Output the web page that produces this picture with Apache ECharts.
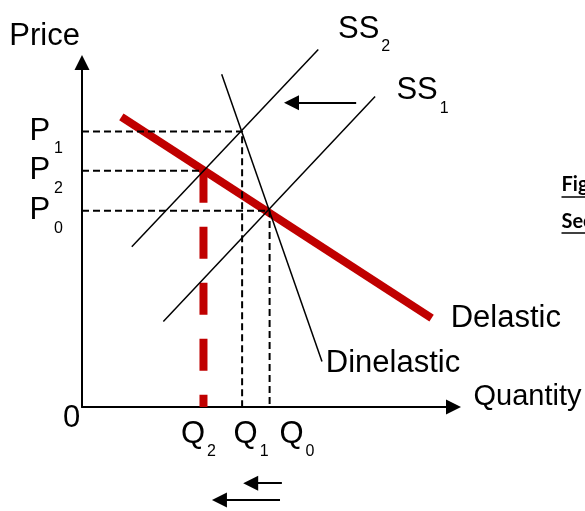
<!DOCTYPE html>
<html>
<head>
<meta charset="utf-8">
<script src="https://cdn.jsdelivr.net/npm/echarts@6.0.0/dist/echarts.min.js"></script>
<style>
html,body{margin:0;padding:0;background:#fff;}
#chart{width:585px;height:511px;}
</style>
</head>
<body>
<div id="chart"></div>
<script>
// ---- data (abstract units: quantity 0..100, price 0..100) ----
// price levels P0, P2, P1
const priceLevels = [57.0, 68.6, 80.0];
const priceSubs = ['0', '2', '1'];
// quantity levels Q2, Q1, Q0
const quantityLevels = [32.7, 43.1, 50.5];
const quantitySubs = ['2', '1', '0'];
// curves: [start point, end point]
const supply1 = [[21.9, 24.8], [78.9, 90.1]];
const supply2 = [[13.4, 46.5], [63.6, 103.8]];
const demandElastic = [[10.6, 84.2], [94.1, 25.8]];
const demandInelastic = [[37.6, 96.6], [64.6, 13.2]];
// curve label texts: [main, subscript]
const supply2Label = ['SS', '2'];
const supply1Label = ['SS', '1'];
const elasticLabel = ['Delastic', ''];
const inelasticLabel = ['Dinelastic', ''];
// annotation arrows: [tail, head]
const arrowSupplyShift = [[73.8, 88.3], [56.4, 88.3]];
const arrowQShiftA = [[53.8, -22.1], [45.4, -22.1]];
const arrowQShiftB = [[53.3, -27.0], [37.0, -27.0]];
// axis names and side texts
const xName = 'Quantity';
const yName = 'Price';
const originLabel = '0';
const sideTexts = ['Figure', 'Section'];

// ---- derived guide lines ----
const P0 = priceLevels[0], P2 = priceLevels[1], P1 = priceLevels[2];
const Q2 = quantityLevels[0], Q1 = quantityLevels[1], Q0 = quantityLevels[2];
const guideP1Q1 = [[0, P1], [Q1, P1], [Q1, 0]];
const guideP0Q0 = [[0, P0], [Q0, P0], [Q0, 0]];
const guideP2 = [[0, P2], [Q2, P2]];
const redDropQ2 = [[Q2, P2], [Q2, 0]];

// ---- styling ----
const FONT = '"Liberation Sans", Arial, sans-serif';
const RED = '#c00000';
const main = {fontSize: 31, lineHeight: 31, fontFamily: FONT, color: '#000', verticalAlign: 'top'};
const sub = {fontSize: 16, lineHeight: 16, fontFamily: FONT, color: '#000', verticalAlign: 'top'};
function st(base, extra) { return Object.assign({}, base, extra); }
const labelRich = {m: st(main, {padding: [0, 0, 0, 0]}), s: st(sub, {padding: [25, 0, 0, 2]}),
  sp: st(sub, {padding: [25, 0, 0, 4]})};
// horizontal nudges of the quantity labels (layout only)
const qLabelNudge = [-5, 9, 27.3];

function lineSeries(data, color, width, dash, z) {
  return {
    type: 'line', data: data, showSymbol: false, symbol: 'none', clip: false, silent: true, z: z,
    lineStyle: {color: color, width: width, type: dash || 'solid', cap: 'butt'}
  };
}
function labelSeries(items, base) {
  return {
    type: 'scatter', clip: false, silent: true, z: 6, symbolSize: 1,
    itemStyle: {color: 'rgba(0,0,0,0)', opacity: 1},
    label: Object.assign({show: true, color: '#000', opacity: 1, fontFamily: FONT, fontSize: 31, rich: labelRich}, base),
    data: items
  };
}

const chart = echarts.init(document.getElementById('chart'), null, {renderer: 'canvas'});
chart.setOption({
  animation: false,
  backgroundColor: '#fff',
  grid: {left: 82, top: 62.5, right: 131.5, bottom: 104, containLabel: false, outerBoundsMode: 'none'},
  xAxis: {
    type: 'value', min: 0, max: 100,
    axisLine: {show: true, onZero: false, symbol: ['none', 'triangle'], symbolSize: [15, 15],
      lineStyle: {color: '#000', width: 2}},
    axisTick: {show: false}, splitLine: {show: false}, axisLabel: {show: false},
    name: '{q|' + xName + '}', nameLocation: 'end', nameGap: 20, nameMoveOverlap: false,
    nameTextStyle: {fontSize: 29, fontFamily: FONT, color: '#000', align: 'left', verticalAlign: 'middle',
      rich: {q: {fontSize: 29, lineHeight: 29, fontFamily: FONT, color: '#000', padding: [0, 0, 20, 0]}}}
  },
  yAxis: {
    type: 'value', min: 0, max: 100,
    axisLine: {show: true, onZero: false, symbol: ['none', 'triangle'], symbolSize: [15, 15],
      lineStyle: {color: '#000', width: 2}},
    axisTick: {show: false}, splitLine: {show: false}, axisLabel: {show: false},
    name: yName, nameLocation: 'end', nameGap: 26, nameMoveOverlap: false,
    nameTextStyle: {fontSize: 31, fontFamily: FONT, color: '#000', align: 'right', verticalAlign: 'middle',
      padding: [0, 2, 0, 0]}
  },
  series: [
    lineSeries(demandElastic, RED, 8, null, 2),
    lineSeries(redDropQ2, RED, 8, [32, 24], 2),
    lineSeries(guideP1Q1, '#000', 2, [7, 4], 3),
    lineSeries(guideP0Q0, '#000', 2, [7, 4], 3),
    lineSeries(guideP2, '#000', 2, [7, 4], 3),
    lineSeries(supply1, '#000', 1.5, null, 4),
    lineSeries(supply2, '#000', 1.5, null, 4),
    lineSeries(demandInelastic, '#000', 1.5, null, 4),
    {
      type: 'lines', coordinateSystem: 'cartesian2d', clip: false, silent: true, z: 5,
      symbol: ['none', 'triangle'], symbolSize: 15,
      lineStyle: {color: '#000', width: 2, opacity: 1, curveness: 0},
      data: [{coords: arrowSupplyShift}, {coords: arrowQShiftA}, {coords: arrowQShiftB}]
    },
    // price labels on the vertical axis
    labelSeries(priceLevels.map(function (p, i) {
      return {value: [0, p], label: {formatter: '{m|P}{sp|' + priceSubs[i] + '}'}};
    }), {position: 'left', distance: 18.5}),
    // quantity labels and origin on the horizontal axis
    labelSeries([{value: [0, 0], label: {formatter: '{m|' + originLabel + '}', offset: [-10.5, -16.5]}}]
      .concat(quantityLevels.map(function (q, i) {
        return {value: [q, 0], label: {formatter: '{m|Q}{s|' + quantitySubs[i] + '}', offset: [qLabelNudge[i], 0]}};
      })), {position: 'bottom', distance: 11.5}),
    // curve labels
    labelSeries([
      {value: supply2[1], label: {offset: [19.2, -20.1], formatter: '{m|' + supply2Label[0] + '}{s|' + supply2Label[1] + '}'}},
      {value: supply1[1], label: {offset: [20.8, -5.9], formatter: '{m|' + supply1Label[0] + '}{s|' + supply1Label[1] + '}'}},
      {value: demandElastic[1], label: {offset: [18.6, 0.8], formatter: elasticLabel[0]}},
      {value: demandInelastic[1], label: {offset: [3.3, 2.3], formatter: inelasticLabel[0]}}
    ], {position: 'right', distance: 0})
  ],
  graphic: [
    {type: 'text', x: 561.5, y: 185, silent: true,
      style: {text: sideTexts[0], font: 'bold 20px Lato, sans-serif', fill: '#000', align: 'left', verticalAlign: 'middle'}},
    {type: 'line', silent: true, shape: {x1: 561.5, y1: 197, x2: 660, y2: 197}, style: {stroke: '#000', lineWidth: 1.5}},
    {type: 'text', x: 561.5, y: 221.5, silent: true,
      style: {text: sideTexts[1], font: 'bold 20px Lato, sans-serif', fill: '#000', align: 'left', verticalAlign: 'middle'}},
    {type: 'line', silent: true, shape: {x1: 561.5, y1: 233, x2: 660, y2: 233}, style: {stroke: '#000', lineWidth: 1.5}}
  ]
});
</script>
</body>
</html>
